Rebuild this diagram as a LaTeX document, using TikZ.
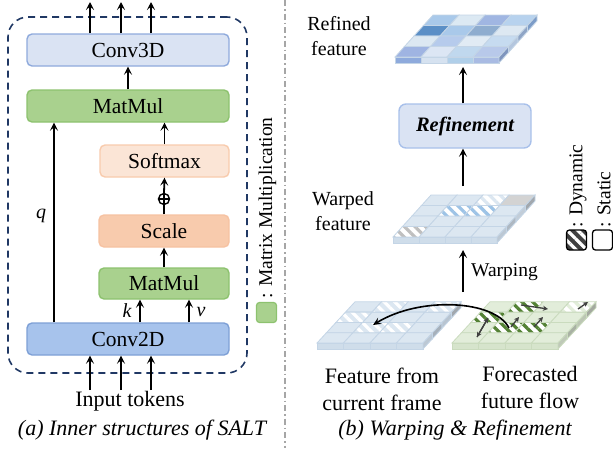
\documentclass[tikz,border=0pt]{standalone}
\usepackage{fontspec}
\setmainfont{Liberation Serif}
\usetikzlibrary{arrows.meta,patterns.meta,calc}

% block colours
\definecolor{frameblue}{HTML}{203864}
\definecolor{cthreefill}{HTML}{DAE3F3}
\definecolor{cthreeline}{HTML}{8FAADC}
\definecolor{mmfill}{HTML}{A9D18E}
\definecolor{mmline}{HTML}{8DC26F}
\definecolor{smfill}{HTML}{FBE5D6}
\definecolor{smline}{HTML}{F8CBAD}
\definecolor{scfill}{HTML}{F8CBAD}
\definecolor{scline}{HTML}{F6C2A2}
\definecolor{ctwofill}{HTML}{A7C3EC}
\definecolor{ctwoline}{HTML}{7EA0D6}
\definecolor{reffill}{HTML}{DAE3F3}
\definecolor{refline}{HTML}{A8C0EA}
\definecolor{sepgray}{HTML}{A6A6A6}
\definecolor{flowgray}{HTML}{404040}
% feature-map colours
\definecolor{bbase}{HTML}{DCE7F1}
\definecolor{bline}{HTML}{C4D5E6}
\definecolor{bfront}{HTML}{CFDDEA}
\definecolor{bside}{HTML}{B4C0CC}
\definecolor{gbase}{HTML}{E2EDDA}
\definecolor{gline}{HTML}{CADBBE}
\definecolor{gfront}{HTML}{D6E4CC}
\definecolor{gside}{HTML}{B7C2AE}
\definecolor{stripegreen}{HTML}{548235}
\definecolor{stripeblue}{HTML}{9DC3E6}
\definecolor{stripegray}{HTML}{BFBFBF}

\tikzset{
  arr/.style={line width=1.8pt,-{Stealth[length=8pt,width=8pt,inset=3.5pt]}},
  flowarr/.style={flowgray,line width=1.3pt,-{Stealth[length=5pt,width=5pt,inset=1.5pt]}},
  blk/.style={rounded corners=5pt,line width=1.4pt,minimum height=32pt,inner sep=0pt,
    font=\fontsize{21.5}{25}\selectfont},
  wide/.style={blk,minimum width=202pt},
  narrow/.style={blk,minimum width=130pt},
  lbl/.style={font=\fontsize{22}{27}\selectfont,align=center,inner sep=0pt},
  smalllbl/.style={font=\fontsize{20}{25}\selectfont,align=center,inner sep=0pt},
  keytxt/.style={font=\fontsize{19.5}{23}\selectfont,inner sep=0pt,rotate=90,anchor=west},
  gridline/.style={draw=bline,line width=0.8pt},
  hatch/.style={pattern={Lines[angle=-45,distance=7.5pt,line width=3.2pt]}},
}

% one cell of the top face, filled with a hex colour
\newcommand\slabcellh[3]{\definecolor{tmpcell}{HTML}{#3}%
  \filldraw[fill=tmpcell,gridline] (#1,#2) -- ++(1,0) -- ++(0,1) -- ++(-1,0) -- cycle;}
% a striped (dynamic) cell: base colour and stripe colour
\newcommand\slabhatch[4]{%
  \fill[#3] (#1,#2) -- ++(1,0) -- ++(0,1) -- ++(-1,0) -- cycle;
  \fill[hatch,pattern color=#4] (#1,#2) -- ++(1,0) -- ++(0,1) -- ++(-1,0) -- cycle;
  \draw[gridline] (#1,#2) -- ++(1,0) -- ++(0,1) -- ++(-1,0) -- cycle;}
% front and right faces of the slab
\newcommand\slabfront[2]{\filldraw[fill=#2,gridline] (#1,0) -- ++(1,0) -- ++(0pt,-6pt) -- ++(-1,0) -- cycle;}
\newcommand\slabside[2]{\filldraw[fill=#2,gridline] (4,#1) -- ++(0,1) -- ++(0pt,-6pt) -- ++(0,-1) -- cycle;}

\begin{document}
\begin{tikzpicture}[x=1pt,y=-1pt]
\useasboundingbox (0,0) rectangle (613,448);

%%%%%%%%%%%%%%%% (a) SALT block %%%%%%%%%%%%%%%%
\node[draw=frameblue,line width=1.6pt,dash pattern=on 7pt off 5pt,rounded corners=20pt,
      minimum width=239pt,minimum height=356pt] (frame) at (127.5,195) {};

\node[wide,fill=cthreefill,draw=cthreeline] (conv3d) at (128,50) {Conv3D};
\node[wide,fill=mmfill,draw=mmline] (matmul) at (128,106) {MatMul};
\node[narrow,fill=smfill,draw=smline,minimum width=129pt] (softmax) at (164.5,161) {Softmax};
\node[narrow,fill=scfill,draw=scline] (scale) at (164,231) {Scale};
\node[narrow,fill=mmfill,draw=mmline,minimum height=31pt] (matmulb) at (164,283.5) {MatMul};
\node[wide,fill=ctwofill,draw=ctwoline] (conv2d) at (128,339) {Conv2D};

\node[circle,draw,line width=1.4pt,minimum size=11pt,inner sep=0pt] (plus) at (164,199) {};
\draw[line width=1.4pt] (plus.west) -- (plus.east) (plus.north) -- (plus.south);

% outputs and inputs
\foreach \i/\xx in {1/90,2/121,3/151}{
  \coordinate (out\i) at (\xx,2);
  \coordinate (in\i) at (\xx,390);
  \draw[arr] (conv3d.north -| out\i) -- (out\i);
  \draw[arr] (in\i) -- (conv2d.south -| in\i);
}
\coordinate (qx) at (54,0);
\coordinate (kx) at (140,0);
\coordinate (vx) at (189,0);

\draw[arr] (matmul.north -| conv3d.north) -- (conv3d.south);
\draw[arr] (softmax.north) -- (matmul.south -| softmax.north);
\draw[line width=1.8pt] (scale.north) -- (plus.south);
\draw[arr] (plus.north) -- (softmax.south);
\draw[arr] (matmulb.north) -- (scale.south);
\draw[arr] (conv2d.north -| qx) -- (matmul.south -| qx);
\draw[arr] (conv2d.north -| kx) -- (matmulb.south -| kx);
\draw[arr] (conv2d.north -| vx) -- (matmulb.south -| vx);

\node[font=\fontsize{20}{24}\selectfont\itshape] (qlbl) at (41,216) {q};
\node[font=\fontsize{20}{24}\selectfont\itshape] (klbl) at (127,311) {k};
\node[font=\fontsize{20}{24}\selectfont\itshape] (vlbl) at (201,312) {v};

\node[lbl] (inputs) at (130,401) {Input tokens};
\node[lbl,font=\fontsize{22}{27}\selectfont\itshape] (capa) at (142,430) {(a) Inner structures of SALT};

% key for the green blocks
\node[fill=mmfill,draw=mmline,line width=1.2pt,rounded corners=3pt,minimum size=20pt,inner sep=0pt]
  (mmkey) at (266.5,312.5) {};
\node[keytxt] (mmtext) at (267.5,299) {: Matrix Multiplication};

% separator
\coordinate (septop) at (285,0);
\coordinate (sepbot) at (285,448);
\draw[sepgray,line width=1.5pt,dash pattern=on 6pt off 3pt on 1.5pt off 3pt] (septop) -- (sepbot);

%%%%%%%%%%%%%%%% (b) Warping & Refinement %%%%%%%%%%%%%%%%
% refined feature
\begin{scope}[shift={(395,57)},x={(26pt,0pt)},y={(9.5pt,10.5pt)},gridline/.style={draw=bline,line width=0.8pt}]
  \slabcellh{0}{3}{A9C9EA}\slabcellh{1}{3}{DCE9F3}\slabcellh{2}{3}{A0B6E2}\slabcellh{3}{3}{B7D2EE}
  \slabcellh{0}{2}{5B8FC6}\slabcellh{1}{2}{A9C9EA}\slabcellh{2}{2}{8FADCF}\slabcellh{3}{2}{DDE8F2}
  \slabcellh{0}{1}{DCE8F2}\slabcellh{1}{1}{B6CBEC}\slabcellh{2}{1}{E1EBF4}\slabcellh{3}{1}{C6DBF0}
  \slabcellh{0}{0}{9FB4E2}\slabcellh{1}{0}{DCE6F4}\slabcellh{2}{0}{C0D8EE}\slabcellh{3}{0}{B8C9EA}
  \definecolor{fa}{HTML}{8EAADC}\definecolor{fb}{HTML}{D6E2F0}
  \definecolor{fc}{HTML}{B0CFE9}\definecolor{fd}{HTML}{A9BBE3}
  \slabfront{0}{fa}\slabfront{1}{fb}\slabfront{2}{fc}\slabfront{3}{fd}
  \definecolor{sa}{HTML}{7F95BE}\definecolor{sb}{HTML}{B4C6DE}
  \definecolor{sc}{HTML}{8FA5C6}\definecolor{sd}{HTML}{7C9CC8}
  \slabside{0}{sa}\slabside{1}{sb}\slabside{2}{sc}\slabside{3}{sd}
\end{scope}
\node[smalllbl] (reflbl) at (339,36) {Refined\\feature};

\node[blk,fill=reffill,draw=refline,minimum width=132pt,minimum height=44pt,rounded corners=7pt,
      font=\fontsize{20.5}{24}\selectfont\bfseries\itshape] (refine) at (465,126) {Refinement};
\coordinate (refinedbot) at (463,67);
\coordinate (warpedtop) at (463,186);
\draw[arr] (refine.north -| refinedbot) -- (refinedbot);
\draw[arr] (warpedtop) -- (refine.south -| warpedtop);

% warped feature
\begin{scope}[shift={(393,237)},x={(26pt,0pt)},y={(9.5pt,10.5pt)}]
  \foreach \c/\r in {0/3,1/3,0/2,3/2,0/1,1/1,2/1,3/1,1/0,2/0,3/0}{\slabcellh{\c}{\r}{DCE7F1}}
  \slabhatch{2}{3}{white}{bbase}
  \slabcellh{3}{3}{D3D3D3}
  \slabhatch{1}{2}{white}{stripeblue}
  \slabhatch{2}{2}{white}{stripeblue}
  \slabhatch{0}{0}{white}{stripegray}
  \foreach \c in {0,1,2,3}{\slabfront{\c}{bfront}}
  \definecolor{sa}{HTML}{BCC8D4}\definecolor{sb}{HTML}{AEB8C2}
  \definecolor{sc}{HTML}{C2CDD8}\definecolor{sd}{HTML}{A2A8AE}
  \slabside{0}{sa}\slabside{1}{sb}\slabside{2}{sc}\slabside{3}{sd}
\end{scope}
\node[smalllbl] (warplbl) at (343,211) {Warped\\feature};

\coordinate (warpfrom) at (463,292);
\coordinate (warpto) at (463,250);
\draw[arr] (warpfrom) -- (warpto);
\node[font=\fontsize{19.5}{23}\selectfont,anchor=west,inner sep=0pt] (warping) at (471,272) {Warping};

% feature from current frame
\begin{scope}[shift={(317,343)},x={(26.5pt,0pt)},y={(9.5pt,10.3pt)}]
  \foreach \c/\r in {0/3,2/3,1/2,2/2,3/2,0/1,3/1,0/0,1/0,2/0,3/0}{\slabcellh{\c}{\r}{DCE7F1}}
  \slabhatch{1}{3}{bbase}{white}
  \slabhatch{3}{3}{bbase}{white}
  \slabhatch{0}{2}{bbase}{white}
  \slabhatch{1}{1}{bbase}{white}
  \slabhatch{2}{1}{bbase}{white}
  \foreach \c in {0,1,2,3}{\slabfront{\c}{bfront}}
  \definecolor{sa}{HTML}{BCC8D4}\definecolor{sb}{HTML}{A6B0BA}
  \definecolor{sc}{HTML}{B8C4D0}\definecolor{sd}{HTML}{A2A8AE}
  \slabside{0}{sa}\slabside{1}{sb}\slabside{2}{sc}\slabside{3}{sd}
\end{scope}

% forecasted future flow
\begin{scope}[shift={(452,343)},x={(26.5pt,0pt)},y={(9.5pt,10.3pt)},gridline/.style={draw=gline,line width=0.8pt}]
  \foreach \c/\r in {0/3,2/3,1/2,2/2,3/2,0/1,3/1,0/0,1/0,2/0,3/0}{\slabcellh{\c}{\r}{E2EDDA}}
  \slabhatch{1}{3}{white}{stripegreen}
  \slabhatch{3}{3}{white}{gbase}
  \slabhatch{0}{2}{white}{stripegreen}
  \slabhatch{1}{1}{white}{stripegreen}
  \slabhatch{2}{1}{white}{stripegreen}
  \foreach \c in {0,1,2,3}{\slabfront{\c}{gfront}}
  \definecolor{sa}{HTML}{BFC9B8}\definecolor{sb}{HTML}{A9B1A4}
  \definecolor{sc}{HTML}{BCC6B4}\definecolor{sd}{HTML}{A4A9A0}
  \slabside{0}{sa}\slabside{1}{sb}\slabside{2}{sc}\slabside{3}{sd}
\end{scope}

% flow vectors
\coordinate (fa1) at (521,305); \coordinate (fa2) at (548,309);
\coordinate (fb1) at (477,337); \coordinate (fb2) at (488,318);
\coordinate (fc1) at (511,327); \coordinate (fc2) at (519,317);
\coordinate (fd1) at (534,327); \coordinate (fd2) at (543,317);
\coordinate (fe1) at (578,309); \coordinate (fe2) at (588,302);
\draw[flowarr] (fa1) -- (fa2);
\draw[flowarr,{Stealth[length=5pt,width=5pt,inset=1.5pt]}-] (fb1) -- (fb2);
\draw[flowarr] (fb1) -- (fb2);
\draw[flowarr] (fc1) -- (fc2);
\draw[flowarr] (fd1) -- (fd2);
\draw[flowarr] (fe1) -- (fe2);

% sampling arrow from the flow back into the current frame
\coordinate (curvefrom) at (509,328);
\coordinate (curveto) at (373,325);
\draw[line width=1.6pt,-{Stealth[length=8pt,width=7pt,inset=3pt]}]
  (curvefrom) .. controls (495,300) and (420,296) .. (curveto);

\node[lbl] (curlbl) at (382,389) {Feature from\\current frame};
\node[lbl] (flowlbl) at (530,387) {Forecasted\\future flow};
\node[lbl,font=\fontsize{22}{27}\selectfont\itshape] (capb) at (455,430) {(b) Warping \& Refinement};

% key for dynamic / static cells
\node[fill=flowgray,draw=black,line width=1.3pt,rounded corners=3pt,minimum size=20pt,inner sep=0pt,
      path picture={\fill[hatch,pattern color=white] (path picture bounding box.south west) rectangle (path picture bounding box.north east);}]
  (dynkey) at (576.5,240) {};
\node[fill=white,draw=black,line width=1.3pt,rounded corners=3pt,minimum size=20pt,inner sep=0pt]
  (statkey) at (602.5,240) {};
\node[keytxt] (dyntxt) at (578,228) {: Dynamic};
\node[keytxt] (stattxt) at (604,228) {: Static};
\end{tikzpicture}
\end{document}
